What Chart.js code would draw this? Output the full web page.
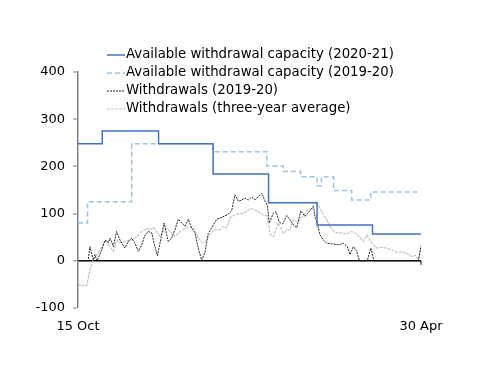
<!DOCTYPE html>
<html>
<head>
<meta charset="utf-8">
<script src="https://cdn.jsdelivr.net/npm/chart.js@4.4.0/dist/chart.umd.min.js"></script>
<style>
  html, body { margin: 0; padding: 0; background: #fff; }
  #wrap { width: 500px; height: 386px; }
</style>
</head>
<body>
<div id="wrap"><canvas id="myChart"></canvas></div>
<script>
// days counted from 15 Oct (0) to 30 Apr (198)
const dayLabels = { 0: '15 Oct', 198: '30 Apr' };

// available capacity, step changes (day the new value starts)
const capDays2021 = [0, 14, 46.5, 78, 110, 138, 170, 198];
const cap2021 = [248, 275, 248, 184, 123, 76, 57, 57];

const capDays1920 = [0, 5.5, 31, 78, 109, 118.5, 128.5, 138, 140.5, 147.5, 158, 169, 198];
const cap1920 = [80, 125, 248, 231, 201, 189, 178, 159, 178, 149, 129, 146, 146];

// withdrawals 2019-20
const wdDays = [0, 5.8, 6.9, 8.8, 9.8, 11, 13.7, 15.6, 17.5, 18.5, 20.4, 22.3, 24.2, 27.1, 29, 31, 32.9,
  34.8, 36.8, 38.7, 40.6, 42.6, 43.9, 45.8, 47.3, 49.7, 51.2, 52.1, 54.1, 56, 57.9, 59.9, 61.8, 63.7,
  65.6, 67.6, 69.5, 71.4, 73.3, 75.2, 78.1, 80.1, 83, 86.8, 88.7, 90.6, 92.6, 94.5, 96.4, 98.3, 100.3,
  102.2, 104.1, 106.1, 108, 109.3, 110.4, 112.6, 114.3, 116.2, 118.2, 120.5, 122.4, 124.3, 126.3,
  128.6, 131.1, 133.9, 135.9, 136.8, 138, 139.7, 141.6, 143.6, 146.5, 150.3, 153.2, 155.5, 157, 159,
  160.9, 162.4, 167, 169, 170.9, 196.5, 198];
const withdrawals = [0, 0, 30, 2, 13, 0, 23, 44, 38, 48, 30, 62, 44, 27, 41, 48, 37,
  20, 34, 55, 62, 59, 37, 11, 37, 80, 55, 41, 48, 66, 88, 80, 73, 88,
  69, 59, 25, 1, 18, 58, 76, 88, 92, 99, 106, 140, 126, 129, 133, 129, 135,
  129, 136, 143, 126, 118, 80, 100, 104, 82, 78, 96, 87, 76, 70,
  106, 94, 106, 115, 94, 80, 55, 44, 37, 36, 34, 37, 30, 13, 30,
  20, 0, 0, 27, 0, 0, 32];

// withdrawals three-year average
const avgDays = [0, 5, 6.9, 8.8, 10.8, 12.7, 14.6, 16.6, 18.5, 20.4, 22.3, 24.2, 27.1, 31, 33.9, 36.8,
  39.7, 41.6, 43.5, 45.4, 47.3, 49.2, 51.2, 54.1, 56, 58.9, 61.8, 64.7, 67.1, 69.5, 71.6, 73.3, 75.6,
  78.5, 82, 83.9, 85.9, 87.8, 91.6, 94.5, 97.4, 99.3, 103.2, 107, 109.1, 110.9, 112.8, 115.6, 118.5,
  120.7, 122.4, 124.3, 126.4, 129.2, 132, 134.9, 137.8, 140.7, 143.6, 146.5, 149.4, 152.3, 155.1, 158,
  160.9, 164.7, 166.7, 169.6, 172.5, 175.3, 178.2, 181.1, 184, 186.9, 189.8, 192.7, 194.6, 196.5, 198];
const avgWithdrawals = [-51, -53, -19, 2, 13, 23, 34, 44, 30, 20, 44, 38, 41, 44, 51, 62,
  69, 66, 71, 62, 51, 62, 69, 59, 51, 62, 69, 72, 68, 48, 38, 40, 53,
  66, 66, 73, 70, 92, 99, 100, 104, 111, 106, 97, 95, 57, 51, 80, 58,
  66, 65, 87, 82, 92, 105, 111, 126, 104, 87, 66, 59, 59, 57, 62,
  57, 41, 55, 37, 27, 29, 27, 23, 18, 19, 16, 9, 12, 2, 28];

const yTicks = [-100, 0, 100, 200, 300, 400];

function pairs(xs, ys) {
  return xs.map((x, i) => ({ x: x, y: ys[i] }));
}

// legend drawn by hand so it can sit over the top of the plot
const topLegend = {
  id: 'topLegend',
  afterDraw(chart) {
    const ctx = chart.ctx;
    ctx.save();
    ctx.font = '13.3px "DejaVu Sans"';
    ctx.textBaseline = 'middle';
    chart.data.datasets.forEach((ds, i) => {
      const y = 55 + i * 18;
      ctx.strokeStyle = ds.borderColor;
      ctx.lineWidth = ds.borderWidth;
      ctx.setLineDash(ds.borderDash || []);
      ctx.beginPath();
      ctx.moveTo(107, y);
      ctx.lineTo(125, y);
      ctx.stroke();
      ctx.setLineDash([]);
      ctx.fillStyle = '#000';
      ctx.fillText(ds.label, 126, y);
    });
    // little tick at the end of the date axis
    const xEnd = chart.scales.x.getPixelForValue(198);
    const yZero = chart.scales.y.getPixelForValue(0);
    ctx.strokeStyle = '#000';
    ctx.lineWidth = 1;
    ctx.beginPath();
    ctx.moveTo(xEnd, yZero);
    ctx.lineTo(xEnd, yZero + 4);
    ctx.stroke();
    ctx.restore();
  }
};

const ctx = document.getElementById('myChart').getContext('2d');
new Chart(ctx, {
  type: 'line',
  data: {
    datasets: [{
      label: 'Available withdrawal capacity (2020-21)',
      data: pairs(capDays2021, cap2021),
      stepped: true,
      borderColor: '#4472C4',
      borderWidth: 1.5
    }, {
      label: 'Available withdrawal capacity (2019-20)',
      data: pairs(capDays1920, cap1920),
      stepped: true,
      borderColor: '#9DC3E6',
      borderWidth: 1.5,
      borderDash: [5, 3]
    }, {
      label: 'Withdrawals (2019-20)',
      data: pairs(wdDays, withdrawals),
      borderColor: '#222222',
      borderWidth: 1,
      borderDash: [2, 1]
    }, {
      label: 'Withdrawals (three-year average)',
      data: pairs(avgDays, avgWithdrawals),
      borderColor: '#c4c4c4',
      borderWidth: 1.2,
      borderDash: [3, 1]
    }]
  },
  options: {
    responsive: true,
    maintainAspectRatio: false,
    animation: false,
    layout: { padding: { top: 72, right: 79, bottom: 48, left: 0 } },
    elements: { point: { radius: 0 }, line: { tension: 0 } },
    plugins: { legend: { display: false }, tooltip: { enabled: false } },
    scales: {
      x: {
        type: 'linear',
        min: 0,
        max: 198,
        afterBuildTicks: axis => { axis.ticks = [{ value: 0 }, { value: 198 }]; },
        afterFit: axis => { axis.height = 30; },
        grid: { display: false, drawTicks: false },
        border: { display: false },
        ticks: {
          padding: 11,
          maxRotation: 0,
          color: '#000',
          font: { family: 'DejaVu Sans', size: 13 },
          callback: v => dayLabels[v] || ''
        }
      },
      y: {
        min: -100,
        max: 400,
        afterBuildTicks: axis => { axis.ticks = yTicks.map(v => ({ value: v })); },
        afterFit: axis => { axis.width = 78; },
        grid: {
          color: c => (c.tick && c.tick.value === 0 ? '#000' : 'rgba(0,0,0,0)'),
          lineWidth: c => (c.tick && c.tick.value === 0 ? 1.5 : 0),
          tickColor: '#808080',
          tickWidth: 1,
          tickLength: 5
        },
        border: { display: true, color: '#808080', width: 1.5 },
        ticks: {
          padding: 8,
          color: '#000',
          font: { family: 'DejaVu Sans', size: 13 }
        }
      }
    }
  },
  plugins: [topLegend]
});
</script>
</body>
</html>
